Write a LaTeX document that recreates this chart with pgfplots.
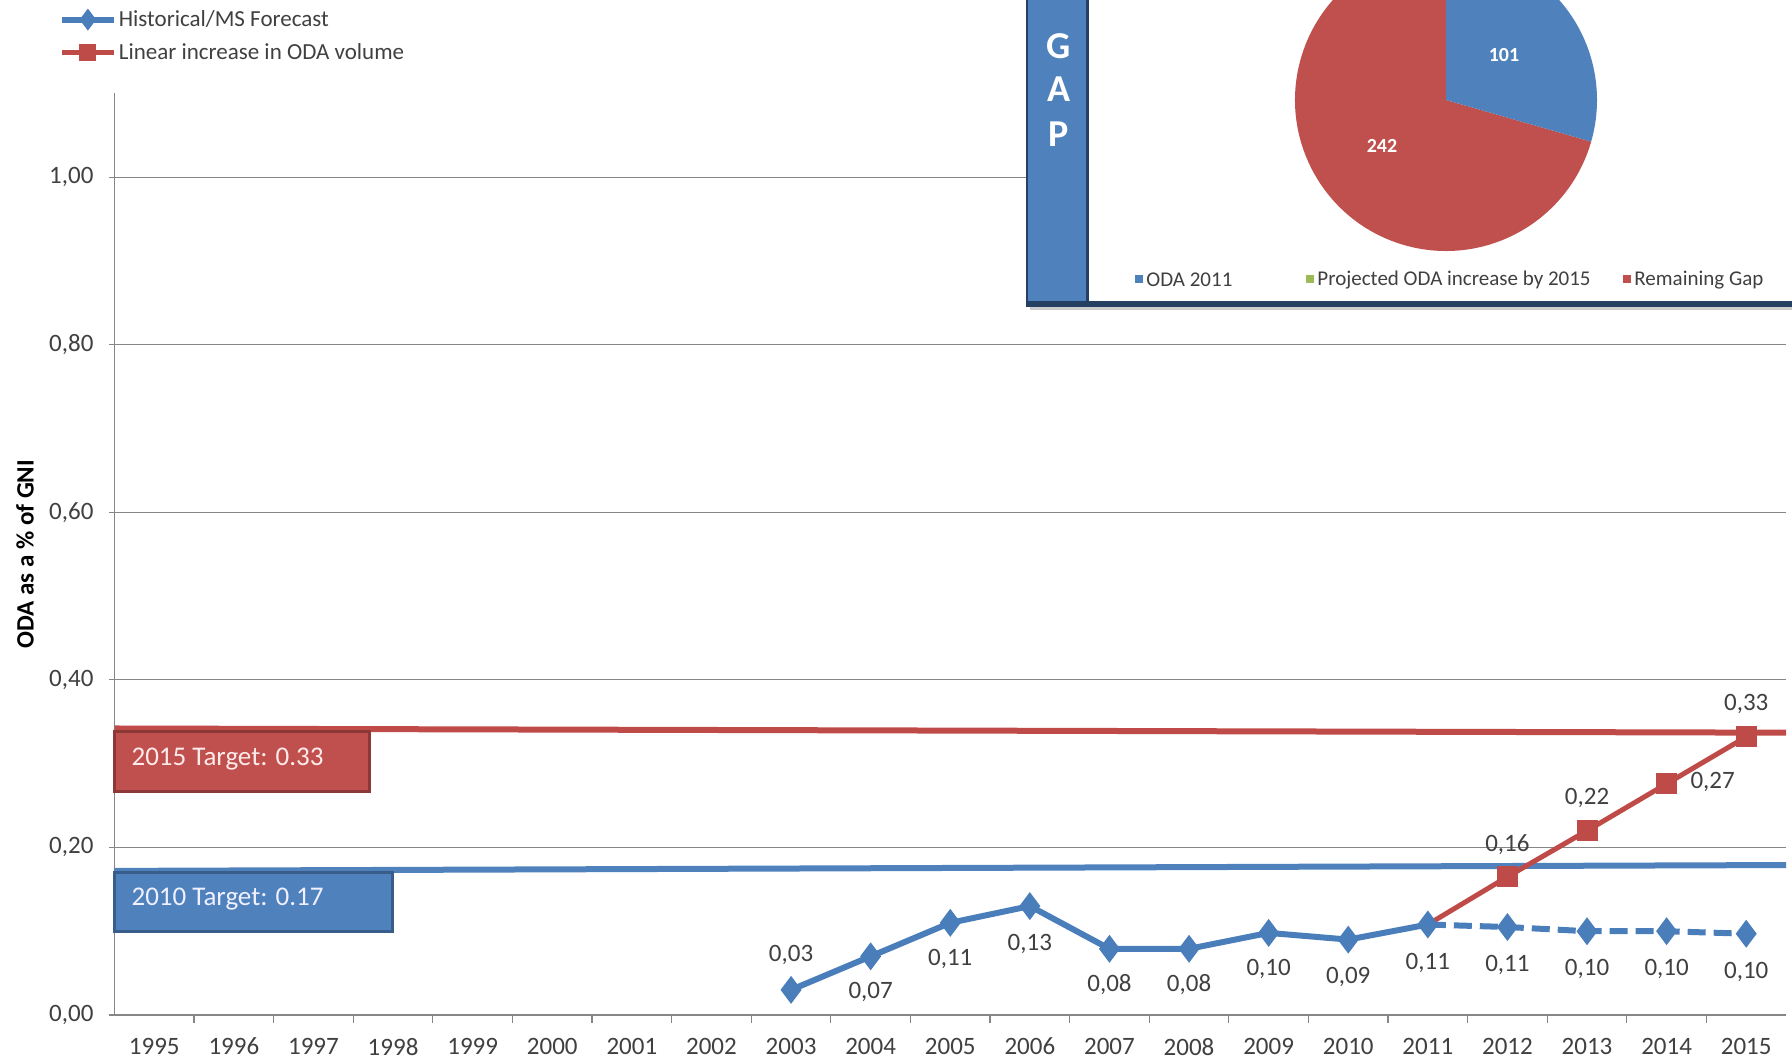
\documentclass[border=0pt]{standalone}
\usepackage{pgfplots}
\pgfplotsset{compat=1.18}
\usepackage{pgfplotstable}
\usepackage{fontspec}
\setmainfont{Carlito}

\definecolor{oblue}{HTML}{4A7EBB}
\definecolor{ored}{HTML}{BE4B48}
\definecolor{gridg}{HTML}{868686}
\definecolor{txt}{HTML}{404040}
\definecolor{boxred}{HTML}{C0504D}
\definecolor{boxredd}{HTML}{8C3836}
\definecolor{boxblue}{HTML}{4F81BD}
\definecolor{boxblued}{HTML}{385D8A}
\definecolor{navy}{HTML}{254061}
\definecolor{pgreen}{HTML}{9BBB59}

% x = 0 is 1995
\pgfplotstableread{
x  y     lbl   dx  dy
8  0.030 0,03  0   17.5
9  0.070 0,07  0   -18
10 0.110 0,11  0   -18
11 0.130 0,13  0   -19
12 0.079 0,08  0   -18
13 0.079 0,08  0   -18
14 0.098 0,10  0   -18
15 0.090 0,09  0   -18.5
16 0.108 0,11  0   -19
}\histdata

\pgfplotstableread{
x  y     lbl   dx  dy
16 0.108 {}    0   0
17 0.105 0,11  0   -19
18 0.100 0,10  0   -19
19 0.100 0,10  0   -19
20 0.097 0,10  0   -19
}\forecast

\pgfplotstableread{
x  y     lbl   dx  dy
16 0.108 {}    0   0
17 0.165 0,16  0   16
18 0.220 0,22  0   16.5
19 0.276 0,27  23  1
20 0.332 0,33  0   16.5
}\linear

\def\odaval{101}
\def\gapval{242}

\pgfplotsset{
    lbls/.style={
        nodes near coords,
        point meta=explicit symbolic,
        visualization depends on={\thisrow{dx} \as \dx},
        visualization depends on={\thisrow{dy} \as \dy},
        every node near coord/.append style={anchor=center, xshift=\dx pt, yshift=\dy pt,
            font=\fontsize{12.5}{14}\selectfont, text=txt},
    },
}

\begin{document}
\begin{tikzpicture}
\useasboundingbox (0,0) rectangle (896pt,531.5pt);
\begin{axis}[
    at={(57.25pt,24pt)}, anchor=south west,
    width=835.75pt, height=460.75pt, scale only axis,
    xmin=-0.5, xmax=20.5, ymin=0, ymax=1.1,
    axis x line*=bottom, axis y line*=left,
    axis line style={gridg, line width=0.6pt, -},
    xtick={0,...,20},
    xticklabels={1995,1996,1997,1998,1999,2000,2001,2002,2003,2004,2005,2006,2007,2008,2009,2010,2011,2012,2013,2014,2015},
    major x tick style={draw=none},
    minor x tick num=1,
    minor tick length=4pt,
    ytick={0,0.2,0.4,0.6,0.8,1},
    ymajorgrids,
    grid style={gridg, line width=0.6pt},
    tick align=outside, major tick length=3pt,
    tick style={gridg, line width=0.6pt},
    /pgf/number format/.cd, use comma, fixed, fixed zerofill, precision=2, assume math mode=true,
    /pgfplots/.cd,
    ticklabel style={font=\fontsize{12.5}{14}\selectfont, text=txt},
    xticklabel style={yshift=-5pt},
    yticklabel style={xshift=-4pt},
    ylabel={ODA as a \% of GNI},
    ylabel style={at={(axis description cs:-0.0535,0.5)}, anchor=center,
        font=\fontsize{12.5}{14}\selectfont\bfseries, text=black},
    clip=false,
    legend style={at={(axis description cs:0,1)}, anchor=south west,
        xshift=-31pt, yshift=12.5pt, draw=none, fill=none,
        font=\fontsize{11.5}{13}\selectfont, text=txt, row sep=5pt,
        nodes={inner sep=1pt}},
    legend cell align=left,
    legend image code/.code={\draw[#1, mark size=3pt, mark indices={2}]
        plot coordinates {(0pt,0pt) (13pt,0pt) (26pt,0pt)};},
]

% target lines
\addplot[ored, line width=3pt, forget plot] coordinates {(-0.5,0.342) (20.5,0.337)};
\addplot[boxblue, line width=3pt, forget plot] coordinates {(-0.5,0.172) (20.5,0.179)};

\addplot[oblue, line width=3pt, mark=diamond*, mark size=4.5pt, mark options={solid}, lbls]
    table[x=x, y=y, meta=lbl] {\histdata};
\addlegendentry{Historical/MS Forecast}

\addplot[oblue, line width=3pt, dash pattern=on 9pt off 4pt, mark=diamond*, mark size=4.5pt,
    mark options={solid}, mark indices={2,3,4,5}, forget plot, lbls]
    table[x=x, y=y, meta=lbl] {\forecast};

\addplot[ored, line width=2.5pt, mark=square*, mark size=4pt, mark options={solid},
    mark indices={2,3,4,5}, lbls]
    table[x=x, y=y, meta=lbl] {\linear};
\addlegendentry{Linear increase in ODA volume}

% target boxes
\draw[fill=boxred, draw=boxredd, line width=1.5pt] (axis cs:-0.5,0.267) rectangle (axis cs:2.7,0.338);
\node[anchor=west, inner sep=0pt, text=red!8!white, font=\fontsize{13.5}{16}\selectfont]
    at (axis cs:-0.29,0.3056) {2015 Target: 0.33};
\draw[fill=boxblue, draw=boxblued, line width=1.5pt] (axis cs:-0.5,0.0996) rectangle (axis cs:2.99,0.1705);
\node[anchor=west, inner sep=0pt, text=blue!6!white, font=\fontsize{13.5}{16}\selectfont]
    at (axis cs:-0.29,0.138) {2010 Target: 0.17};
\end{axis}

% inset: gap pie (coordinates in pixels of the reference, y down)
\begin{scope}[shift={(0,531.5pt)}, x=0.5pt, y=-0.5pt]
  \fill[black!20] (1030,-20) rectangle (1800,310);
  \fill[white] (1026,-20) rectangle (1800,306);
  \fill[boxblue] (1026,-20) rectangle (1088,306);
  \draw[navy, line width=1.2pt] (1027,-20) -- (1027,305);
  \draw[navy, line width=1.5pt] (1087,-20) -- (1087,303);
  \draw[navy, line width=3pt] (1026,304) -- (1800,304);
  \node[white, font=\fontsize{19}{19}\selectfont\bfseries] at (1059,46) {G};
  \node[white, font=\fontsize{19}{19}\selectfont\bfseries] at (1059,89) {A};
  \node[white, font=\fontsize{19}{19}\selectfont\bfseries] at (1059,134) {P};
  \begin{scope}[font=\fontsize{10.5}{12}\selectfont, text=txt]
    \fill[boxblue] (1135,275) rectangle (1143,283);
    \node[anchor=west, inner sep=0pt] at (1146,280) {ODA 2011};
    \fill[pgreen] (1306,275) rectangle (1314,283);
    \node[anchor=west, inner sep=0pt] at (1317,280) {Projected ODA increase by 2015};
    \fill[boxred] (1623,275) rectangle (1631,283);
    \node[anchor=west, inner sep=0pt] at (1634,280) {Remaining Gap};
  \end{scope}
\end{scope}

% pie slices (y up, points)
\pgfmathsetmacro{\splitang}{90-360/(\odaval+\gapval)*\odaval}
\fill[boxred] (723pt,481.5pt) -- ++(\splitang:75.5pt)
    arc[start angle=\splitang, end angle=-270, radius=75.5pt] -- cycle;
\fill[boxblue] (723pt,481.5pt) -- ++(90:75.5pt)
    arc[start angle=90, end angle=\splitang, radius=75.5pt] -- cycle;
\node[white, font=\fontsize{10}{12}\selectfont\bfseries] at (752pt,504pt) {\odaval};
\node[white, font=\fontsize{10}{12}\selectfont\bfseries] at (691pt,458.5pt) {\gapval};
\end{tikzpicture}
\end{document}
